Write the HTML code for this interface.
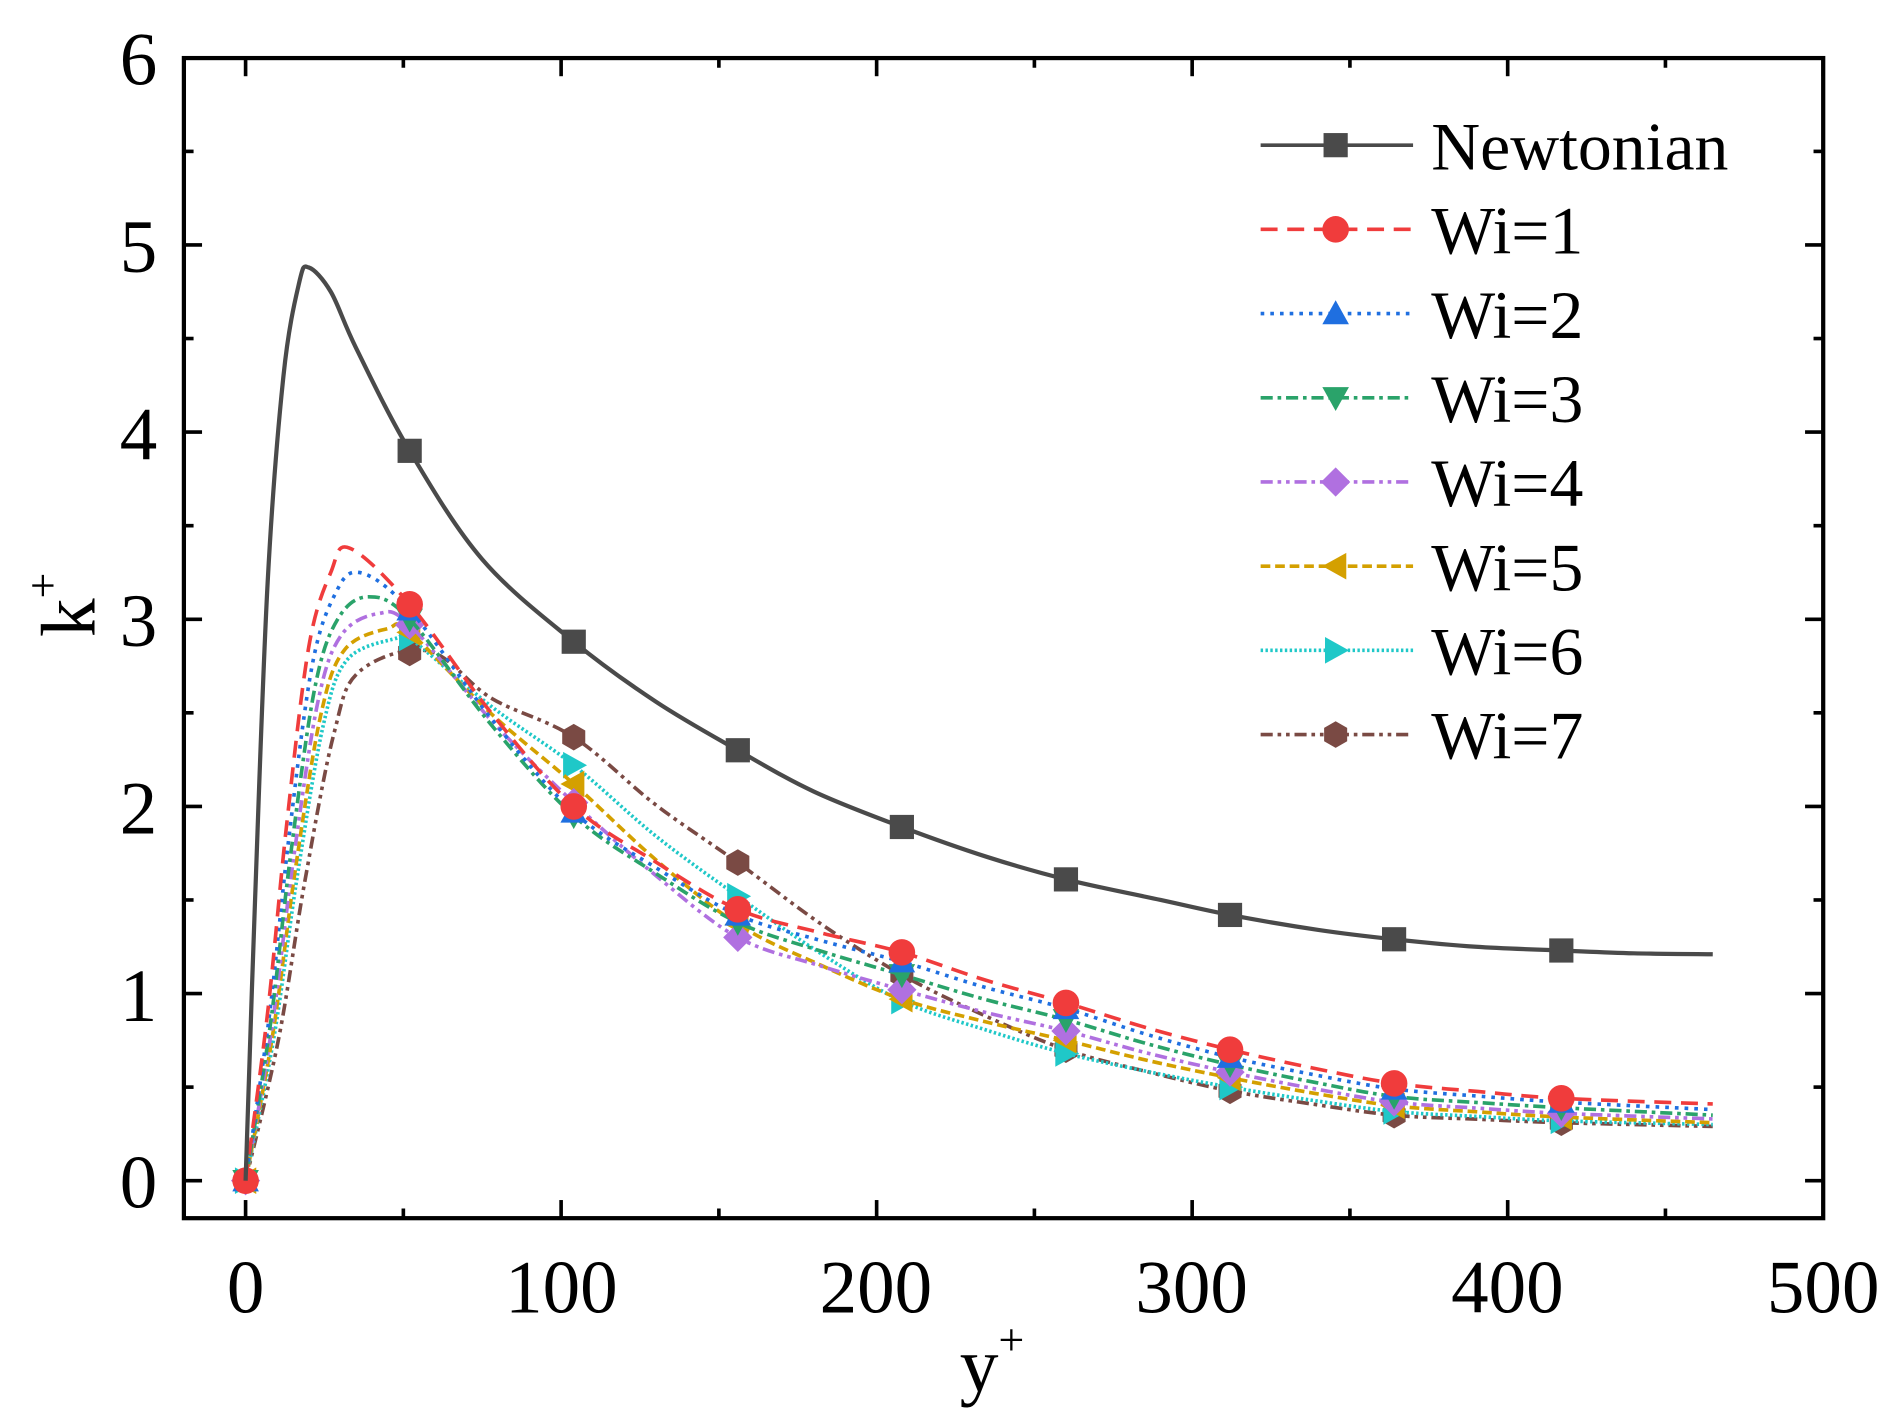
<!DOCTYPE html>
<html><head><meta charset="utf-8"><style>
html,body{margin:0;padding:0;background:#fff;}
svg{display:block;}
text{font-family:"Liberation Serif",serif;fill:#000;}
</style></head><body>
<svg id="s" width="1897" height="1419" viewBox="0 0 1568 1173" preserveAspectRatio="none" xmlns="http://www.w3.org/2000/svg">
<rect x="0" y="0" width="1568" height="1173" fill="#fff"/>
<g id="plot"></g>
<rect x="152" y="48" width="1355" height="959" fill="none" stroke="#000" stroke-width="3.5"/>
<g id="ticks" stroke="#000" stroke-width="3"></g>
<g font-size="62" text-anchor="middle">
<text x="203" y="1085">0</text><text x="464" y="1085">100</text><text x="724" y="1085">200</text>
<text x="985" y="1085">300</text><text x="1246" y="1085">400</text><text x="1507" y="1085">500</text>
</g>
<g font-size="62" text-anchor="end">
<text x="130" y="998">0</text><text x="130" y="844">1</text><text x="130" y="689">2</text>
<text x="130" y="534">3</text><text x="130" y="380">4</text><text x="130" y="225">5</text><text x="130" y="70">6</text>
</g>
<text x="820" y="1150" font-size="64" text-anchor="middle">y<tspan font-size="38" dy="-30">+</tspan></text>
<text transform="translate(78,500) rotate(-90)" font-size="64" text-anchor="middle">k<tspan font-size="38" dy="-30">+</tspan></text>
<g id="legend"></g>
</svg>
<script>
const NS="http://www.w3.org/2000/svg";
const X=v=>203+v*2.608, Y=v=>976-v*154.7;
function el(t,a,p){const e=document.createElementNS(NS,t);for(const k in a)e.setAttribute(k,a[k]);p.appendChild(e);return e;}
const tk=document.getElementById('ticks');
for(let v=0;v<=500;v+=50){const x=X(v),L=v%100?8:15;
 el('line',{x1:x,y1:1007,x2:x,y2:1007-L},tk);el('line',{x1:x,y1:48,x2:x,y2:48+L},tk);}
for(let v=0;v<=6;v+=0.5){const y=Y(v),L=(v%1)?8:15;
 el('line',{x1:152,y1:y,x2:152+L,y2:y},tk);el('line',{x1:1507,y1:y,x2:1507-L,y2:y},tk);}
function path(pts){let d=`M${pts[0][0]},${pts[0][1]}`;
 for(let i=0;i<pts.length-1;i++){const p0=pts[i-1]||pts[i],p1=pts[i],p2=pts[i+1],p3=pts[i+2]||p2;
 const c1=[p1[0]+(p2[0]-p0[0])/6,p1[1]+(p2[1]-p0[1])/6],c2=[p2[0]-(p3[0]-p1[0])/6,p2[1]-(p3[1]-p1[1])/6];
 d+=` C${c1[0]},${c1[1]} ${c2[0]},${c2[1]} ${p2[0]},${p2[1]}`;}return d;}
function marker(type,x,y,c,g,s){s=s||11;
 if(type=='sq')el('rect',{x:x-s+1,y:y-s+1,width:2*s-2,height:2*s-2,fill:c},g);
 else if(type=='ci')el('circle',{cx:x,cy:y,r:s,fill:c},g);
 else if(type=='up')el('polygon',{points:`${x},${y-s} ${x+s},${y+s*0.8} ${x-s},${y+s*0.8}`,fill:c},g);
 else if(type=='dn')el('polygon',{points:`${x},${y+s} ${x+s},${y-s*0.8} ${x-s},${y-s*0.8}`,fill:c},g);
 else if(type=='di')el('polygon',{points:`${x},${y-s*1.1} ${x+s*1.1},${y} ${x},${y+s*1.1} ${x-s*1.1},${y}`,fill:c},g);
 else if(type=='le')el('polygon',{points:`${x-s},${y} ${x+s*0.8},${y-s} ${x+s*0.8},${y+s}`,fill:c},g);
 else if(type=='ri')el('polygon',{points:`${x+s},${y} ${x-s*0.8},${y-s} ${x-s*0.8},${y+s}`,fill:c},g);
 else if(type=='hx'){let p=[];for(let k=0;k<6;k++){const a=Math.PI/6+k*Math.PI/3;p.push((x+s*Math.cos(a))+','+(y+s*Math.sin(a)));}el('polygon',{points:p.join(' '),fill:c},g);}
}
const plot=document.getElementById('plot');
const mx=[0,52,104,156,208,260,312,364,417];
const series=[
 {c:'#f03c3c',d:'14,8',m:'ci',pk:3.38,px:33,v:[3.08,2.0,1.45,1.22,0.95,0.7,0.52,0.44],e:0.41},
 {c:'#1f6fe0',d:'3,5',m:'up',pk:3.25,px:36,v:[3.05,1.97,1.42,1.17,0.92,0.66,0.49,0.42],e:0.38},
 {c:'#2aa36a',d:'10,4,3,4',m:'dn',pk:3.12,px:39,v:[3.0,1.95,1.38,1.1,0.86,0.62,0.45,0.39],e:0.35},
 {c:'#b070e0',d:'10,4,3,4,3,4',m:'di',pk:3.03,px:42,v:[2.97,2.02,1.3,1.02,0.8,0.58,0.42,0.36],e:0.33},
 {c:'#d4a000',d:'8,4',m:'le',pk:2.95,px:45,v:[2.93,2.12,1.37,0.97,0.75,0.55,0.4,0.34],e:0.31},
 {c:'#1fc8c8',d:'2,2',m:'ri',pk:2.9,px:48,v:[2.9,2.22,1.52,0.96,0.68,0.5,0.37,0.32],e:0.3},
 {c:'#7a4a44',d:'10,4,3,4,3,4',m:'hx',pk:2.83,px:58,v:[2.82,2.37,1.7,1.1,0.7,0.48,0.35,0.31],e:0.29}
];
series.slice().reverse().forEach(s=>{
 const f=s.pk/3.38,sh=(s.px-33)/22;
 let pts=[[0,0],[7+sh*3,0.9*f],[13+sh*5,1.9*f],[20+sh*7,2.85*f],[27+sh*8,3.25*f],[s.px,s.pk]];
 for(let j=0;j<8;j++){const x=mx[j+1];
  if(x>s.px+3) pts.push([x,s.v[j]]);
  if(j<7) pts.push([(x+mx[j+2])/2,(s.v[j]+s.v[j+1])/2-0.04*(s.v[j]-s.v[j+1])]);}
 pts.push([465,s.e]);
 el('path',{d:path(pts.map(p=>[X(p[0]),Y(p[1])])),fill:'none',stroke:s.c,'stroke-width':3,'stroke-dasharray':s.d},plot);
 marker(s.m,X(0),Y(0),s.c,plot);
 for(let j=0;j<8;j++)marker(s.m,X(mx[j+1]),Y(s.v[j]),s.c,plot);
});
const nw=[[0,0],[3,1.5],[7,3.2],[12,4.3],[17,4.8],[20,4.88],[27,4.75],[35,4.45],[52,3.9],[75,3.32],[104,2.88],[130,2.56],[156,2.3],[180,2.08],[208,1.89],[235,1.73],[260,1.61],[290,1.5],[312,1.42],[340,1.34],[364,1.29],[390,1.25],[417,1.23],[440,1.215],[465,1.21]];
el('path',{d:path(nw.map(p=>[X(p[0]),Y(p[1])])),fill:'none',stroke:'#4a4a4a','stroke-width':3.5},plot);
for(let i=1;i<9;i++){const v=nw.find(p=>p[0]==mx[i]);marker('sq',X(mx[i]),Y(v[1]),'#4a4a4a',plot);}
const lg=document.getElementById('legend');
const items=[{c:'#4a4a4a',d:'',m:'sq',t:'Newtonian'}].concat(series.map((s,i)=>({c:s.c,d:s.d,m:s.m,t:'Wi='+(i+1)})));
items.forEach((it,i)=>{const y=120+i*69.6;
 el('line',{x1:1042,y1:y,x2:1168,y2:y,stroke:it.c,'stroke-width':3,'stroke-dasharray':it.d},lg);
 marker(it.m,1104,y,it.c,lg);
 const t=el('text',{x:1183,y:y+20,'font-size':56},lg);t.textContent=it.t;});
</script>
</body></html>
